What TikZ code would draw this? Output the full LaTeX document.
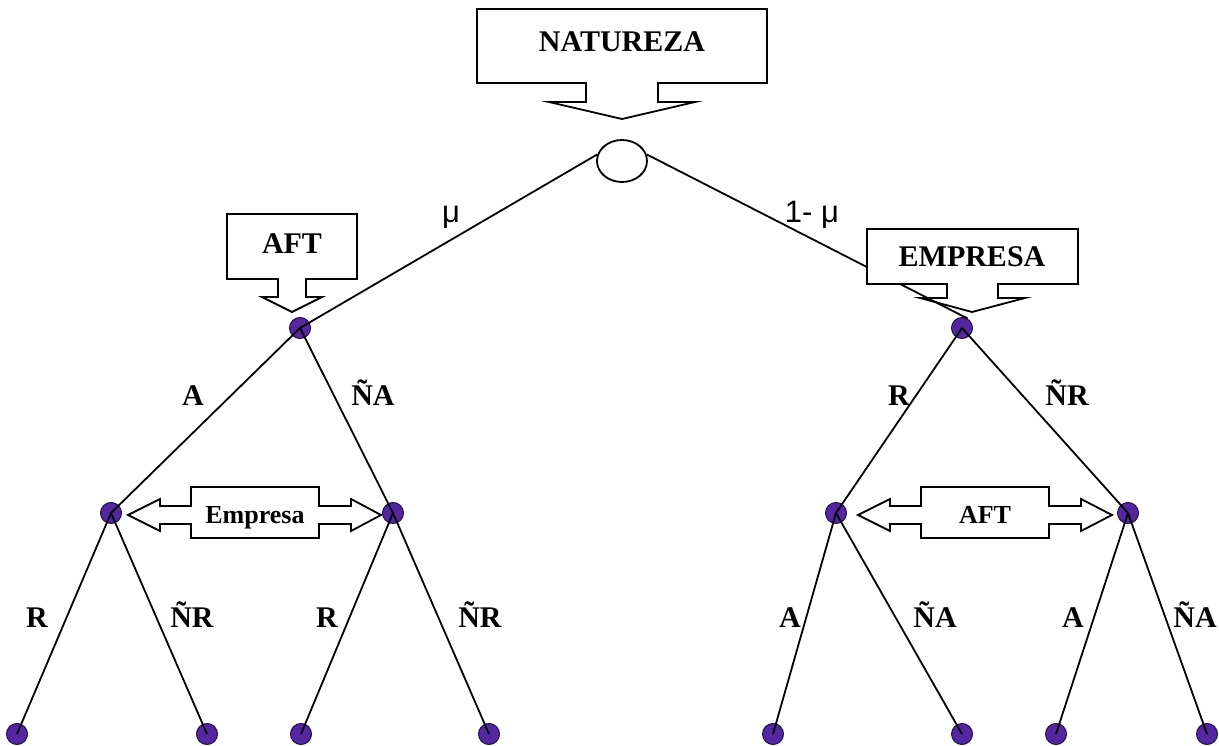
\documentclass[tikz,border=0pt]{standalone}
\usepackage{fontspec}
\setmainfont{Liberation Serif}
\newfontfamily\sansmu{Liberation Sans}
\usetikzlibrary{shapes.geometric}
\definecolor{dotc}{RGB}{84,38,160}
\definecolor{dotd}{RGB}{30,15,75}
\begin{document}
\begin{tikzpicture}[x=1pt,y=-1pt,
  dot/.style={circle,fill=dotc,draw=dotd,line width=1pt,minimum size=21pt,inner sep=0pt},
  edge/.style={line width=1.8pt,black},
  shape line/.style={line width=1.8pt,black,line join=miter},
  lbl/.style={font=\fontsize{30}{36}\selectfont\bfseries,anchor=base,inner sep=0pt},
  small lbl/.style={font=\fontsize{26}{31}\selectfont\bfseries,anchor=base,inner sep=0pt},
  mu lbl/.style={font=\fontsize{31}{36}\selectfont\sansmu,anchor=base,inner sep=0pt}
]
\useasboundingbox (0,0) rectangle (1219,746);

% chance node
\node[ellipse,draw,line width=1.8pt,minimum width=50pt,minimum height=42pt,inner sep=0pt] (nat) at (622,161) {};

% decision / terminal nodes
\node[dot] (aft) at (300,328) {};
\node[dot] (emp) at (962,328) {};
\node[dot] (a1) at (111,513) {};
\node[dot] (a2) at (393,513) {};
\node[dot] (b1) at (836,513) {};
\node[dot] (b2) at (1128,513) {};
\node[dot] (l1) at (17,734) {};
\node[dot] (l2) at (207,734) {};
\node[dot] (l3) at (301,734) {};
\node[dot] (l4) at (489,734) {};
\node[dot] (l5) at (773,734) {};
\node[dot] (l6) at (962,734) {};
\node[dot] (l7) at (1056,734) {};
\node[dot] (l8) at (1207,734) {};

% edges
\draw[edge] (nat.165) -- (aft.center);
\draw[edge] (nat.15) -- (emp.60);
\draw[edge] (aft.center) -- (a1.center);
\draw[edge] (aft.center) -- (a2.center);
\draw[edge] (emp.center) -- (b1.center);
\draw[edge] (emp.center) -- (b2.center);
\draw[edge] (a1.center) -- (l1.center);
\draw[edge] (a1.center) -- (l2.center);
\draw[edge] (a2.center) -- (l3.center);
\draw[edge] (a2.center) -- (l4.center);
\draw[edge] (b1.center) -- (l5.center);
\draw[edge] (b1.center) -- (l6.center);
\draw[edge] (b2.center) -- (l7.center);
\draw[edge] (b2.center) -- (l8.center);

% NATUREZA callout
\fill[white] (477,9) rectangle (767,83);
\draw[shape line] (477,9) -- (767,9) -- (767,83) -- (658,83) -- (658,102) -- (695,102)
  -- (622,119) -- (549,102) -- (586,102) -- (586,83) -- (477,83) -- cycle;
\node[lbl] (tnat) at (622,52) {NATUREZA};

% AFT callout
\fill[white] (227,214) rectangle (357,279);
\draw[shape line] (227,214) -- (357,214) -- (357,279) -- (306,279) -- (306,297) -- (322,297)
  -- (292,312) -- (262,297) -- (278,297) -- (278,279) -- (227,279) -- cycle;
\node[lbl] (taft) at (292,254) {AFT};

% EMPRESA callout
\fill[white] (867,229) rectangle (1078,284);
\draw[shape line] (867,229) -- (1078,229) -- (1078,284) -- (998,284) -- (998,298) -- (1025,298)
  -- (972,312) -- (920,298) -- (947,298) -- (947,284) -- (867,284) -- cycle;
\node[lbl] (temp) at (972,267) {EMPRESA};

% information set double arrows
\filldraw[shape line,fill=white] (128,515) -- (160,499) -- (160,506) -- (191,506) -- (191,487)
  -- (319,487) -- (319,506) -- (351,506) -- (351,499) -- (381,515) -- (351,531) -- (351,524)
  -- (319,524) -- (319,538) -- (191,538) -- (191,524) -- (160,524) -- (160,531) -- cycle;
\node[small lbl] (tinf1) at (255,523) {Empresa};
\filldraw[shape line,fill=white] (858,515) -- (890,499) -- (890,506) -- (921,506) -- (921,487)
  -- (1049,487) -- (1049,506) -- (1081,506) -- (1081,499) -- (1112,515) -- (1081,531) -- (1081,524)
  -- (1049,524) -- (1049,538) -- (921,538) -- (921,524) -- (890,524) -- (890,531) -- cycle;
\node[small lbl] (tinf2) at (985,523) {AFT};

% probability labels
\node[mu lbl] (pmu) at (451,223) {μ};
\node[mu lbl] (pmu2) at (812,223) {1- μ};

% action labels
\node[lbl] (la) at (193,405) {A};
\node[lbl] (lna) at (373,405) {ÑA};
\node[lbl] (lr) at (899,405) {R};
\node[lbl] (lnr) at (1067,405) {ÑR};
\node[lbl] (x1) at (37,627) {R};
\node[lbl] (x2) at (192,627) {ÑR};
\node[lbl] (x3) at (327,627) {R};
\node[lbl] (x4) at (480,627) {ÑR};
\node[lbl] (x5) at (790,627) {A};
\node[lbl] (x6) at (935,627) {ÑA};
\node[lbl] (x7) at (1073,627) {A};
\node[lbl] (x8) at (1195,627) {ÑA};
\end{tikzpicture}
\end{document}
